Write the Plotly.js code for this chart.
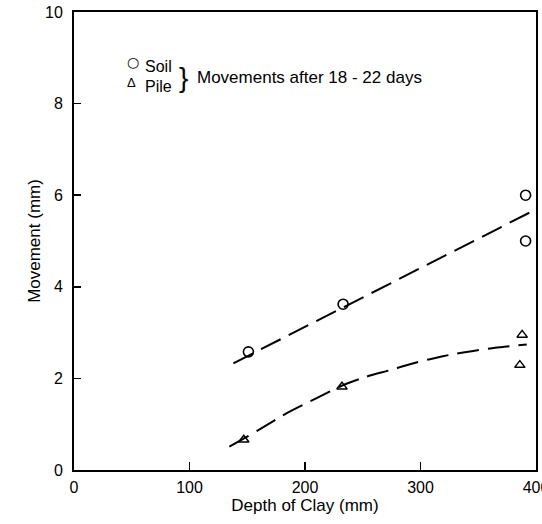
<!DOCTYPE html>
<html>
<head>
<meta charset="utf-8">
<script src="https://cdn.plot.ly/plotly-3.0.1.min.js"></script>
<style>html,body{margin:0;padding:0;background:#fff;}#chart{width:542px;height:524px;}</style>
</head>
<body>
<div id="chart"></div>
<script>
// Measured points
var soilDepth = [151, 233, 391, 391];
var soilMove  = [2.58, 3.62, 6.0, 5.0];
var pileDepth = [147, 232, 388, 386];
var pileMove  = [0.66, 1.82, 2.95, 2.29];
// Fitted (dashed) trend lines
var soilFitDepth = [138, 403];
var soilFitMove  = [2.33, 5.73];
var pileFitDepth = [134.5, 159.6, 184.2, 210.1, 231.8, 253.4, 272.1, 290.9, 308.2, 328.4, 345.7, 364.5, 392];
var pileFitMove  = [0.51, 0.87, 1.24, 1.57, 1.84, 2.04, 2.17, 2.31, 2.42, 2.53, 2.60, 2.67, 2.74];
// Axis ticks
var xTicks = [0, 100, 200, 300, 400];
var yTicks = [0, 2, 4, 6, 8, 10];

var font = 'Liberation Sans, Arial, Helvetica, sans-serif';
var dash = '22px,9px';

var traces = [
  {x: soilFitDepth, y: soilFitMove, mode: 'lines', line: {color: '#000', width: 2, dash: dash}, hoverinfo: 'skip'},
  {x: pileFitDepth, y: pileFitMove, mode: 'lines', line: {color: '#000', width: 2, dash: dash, shape: 'spline', smoothing: 0.6}, hoverinfo: 'skip'},
  {x: soilDepth, y: soilMove, mode: 'markers', marker: {symbol: 'circle-open', size: 10, color: '#000', line: {width: 1.6, color: '#000'}}},
  {x: pileDepth, y: pileMove, mode: 'markers', marker: {symbol: 'triangle-up-open', size: 9, color: '#000', line: {width: 1.5, color: '#000'}}}
];

var layout = {
  width: 542, height: 524,
  margin: {l: 74, r: 6, t: 12, b: 54},
  paper_bgcolor: '#fff', plot_bgcolor: '#fff',
  showlegend: false,
  font: {family: font, color: '#000', size: 16},
  xaxis: {
    range: [0, 400], tickvals: xTicks, ticktext: xTicks.map(String),
    ticks: 'inside', ticklen: 8, tickwidth: 1.5, tickcolor: '#000',
    showline: true, linecolor: '#000', linewidth: 2, mirror: true,
    showgrid: false, zeroline: false, ticklabelstandoff: 2, ticklabeloverflow: 'allow',
    tickfont: {size: 16},
    title: {text: 'Depth of Clay (mm)', font: {size: 17}, standoff: 0}
  },
  yaxis: {
    range: [0, 10], tickvals: yTicks, ticktext: yTicks.map(String),
    ticks: 'inside', ticklen: 7, tickwidth: 1.5, tickcolor: '#000',
    showline: true, linecolor: '#000', linewidth: 2, mirror: true,
    showgrid: false, zeroline: false, ticklabelstandoff: 6, ticklabeloverflow: 'allow',
    tickfont: {size: 16},
    title: {text: 'Movement (mm)', font: {size: 17}, standoff: 0}
  },
  annotations: [
    {x: 51.1, y: 8.91, xref: 'x', yref: 'y', text: '○', showarrow: false, font: {size: 14, family: 'DejaVu Sans'}, xanchor: 'center', yanchor: 'middle'},
    {x: 59.7, y: 8.82, xref: 'x', yref: 'y', text: 'Soil', showarrow: false, font: {size: 16}, xanchor: 'left', yanchor: 'middle'},
    {x: 50.2, y: 8.47, xref: 'x', yref: 'y', text: 'Δ', showarrow: false, font: {size: 13}, xanchor: 'center', yanchor: 'middle'},
    {x: 59.7, y: 8.38, xref: 'x', yref: 'y', text: 'Pile', showarrow: false, font: {size: 16}, xanchor: 'left', yanchor: 'middle'},
    {x: 94.4, y: 8.58, xref: 'x', yref: 'y', text: '}', showarrow: false, font: {size: 28}, xanchor: 'center', yanchor: 'middle'},
    {x: 104.8, y: 8.58, xref: 'x', yref: 'y', text: 'Movements after 18 - 22 days', showarrow: false, font: {size: 17}, xanchor: 'left', yanchor: 'middle'}
  ]
};

Plotly.newPlot('chart', traces, layout, {staticPlot: true, displayModeBar: false});
</script>
</body>
</html>
